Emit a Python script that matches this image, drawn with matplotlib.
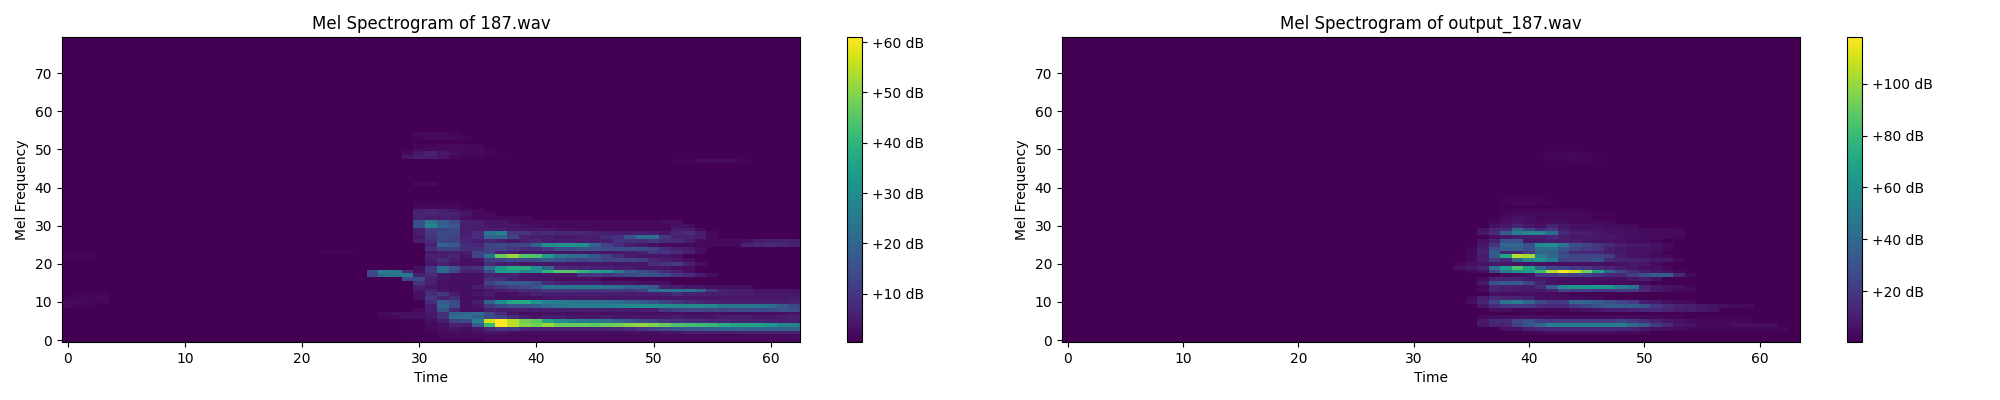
import numpy as np
import matplotlib
matplotlib.use("Agg")
import matplotlib.pyplot as plt

TITLES = ["Mel Spectrogram of 187.wav", "Mel Spectrogram of output_187.wav"]
N_MELS = 80
FRAMES_A = 63
FRAMES_B = 64
VMIN = 0.4
VMAX_A = 61
VMAX_B = 118

# mel bin -> (first frame, dB values per frame)
A_LOW = {
    0: (30, [1, 1, 1, 1, 1, 1, 2, 2, 2, 2, 2, 2, 2, 2, 2, 2, 2, 2, 2, 2, 2, 2, 2, 2, 2, 2, 2, 2, 2, 2, 2, 2, 2]),
    1: (30, [1, 1, 2, 2, 2, 2, 2, 2, 2, 2, 2, 2, 2, 2, 2, 2, 2, 2, 2, 2, 2, 2, 2, 2, 2, 2, 2, 2, 2, 2, 2, 2, 3]),
    2: (29, [1, 1, 1, 2, 3, 2, 3, 4, 4, 3, 3, 3, 3, 3, 3, 3, 3, 3, 3, 3, 3, 3, 4, 4, 5, 5, 5, 5, 5, 6, 6, 6, 6, 6]),
    3: (29, [1, 1, 2, 3, 4, 3, 4, 7, 10, 10, 7, 6, 6, 6, 6, 6, 6, 7, 7, 8, 10, 12, 14, 16, 17, 17, 18, 20, 20, 20, 20, 20, 20, 20]),
    4: (29, [1, 1, 2, 3, 6, 5, 18, 42, 61, 55, 50, 48, 52, 47, 47, 47, 46, 47, 48, 50, 51, 49, 47, 44, 43, 42, 41, 38, 36, 36, 35, 32, 28, 27]),
    5: (29, [1, 1, 3, 5, 12, 14, 27, 57, 61, 55, 48, 46, 36, 30, 27, 25, 25, 22, 20, 17, 14, 12, 10, 9, 8, 8, 7, 7, 6, 6, 6, 6, 5, 5]),
    6: (27, [2, 2, 3, 3, 4, 9, 22, 22, 20, 14, 12, 8, 5, 4, 5, 5, 4, 4, 4, 5, 4, 4, 4, 4, 4, 5, 4, 4, 4, 5, 5, 5, 4, 4, 5, 6]),
    7: (27, [2, 3, 3, 3, 4, 8, 20, 21, 22, 14, 8, 4, 3, 3, 3, 3, 3, 3, 3, 3, 3, 3, 3, 3, 3, 3, 3, 3, 3, 3, 3, 3, 3, 3, 3, 4]),
    8: (30, [2, 5, 16, 7, 3, 3, 5, 5, 5, 5, 5, 5, 5, 5, 5, 5, 5, 5, 5, 5, 5, 10, 12, 13, 13, 13, 13, 14, 14, 14, 14, 16, 15]),
    9: (31, [5, 20, 14, 3, 4, 10, 14, 16, 16, 18, 22, 24, 26, 26, 27, 27, 28, 29, 30, 30, 30, 29, 29, 29, 28, 24, 24, 24, 24, 22, 18, 14]),
    10: (31, [8, 18, 14, 3, 5, 20, 30, 37, 38, 32, 27, 26, 25, 24, 23, 23, 22, 20, 18, 16, 12, 10, 8, 7, 6, 5, 5, 5, 5, 5, 5, 6]),
    11: (30, [3, 10, 6, 8, 3, 3, 4, 3, 3, 3, 3, 4, 4, 4, 4, 4, 4, 4, 4, 4, 4, 4, 4, 4, 4, 4, 4, 4, 4, 4, 4, 4, 5]),
    12: (30, [3, 8, 10, 5, 3, 4, 5, 3, 3, 4, 6, 5, 5, 5, 5, 5, 5, 5, 5, 5, 5, 6, 8, 6, 6, 5, 5, 5, 5, 4, 4, 4, 4]),
    13: (30, [4, 7, 4, 3, 3, 3, 4, 5, 6, 8, 8, 10, 10, 10, 10, 10, 10, 10, 10, 12, 22, 24, 24, 24, 20, 10, 6, 5, 5, 4, 4, 4, 4]),
    14: (30, [6, 4, 3, 3, 3, 5, 8, 10, 12, 14, 16, 24, 24, 24, 25, 25, 24, 22, 20, 20, 17, 6, 5, 4, 4, 3, 3, 3, 3]),
    15: (30, [9, 6, 3, 3, 3, 3, 12, 16, 18, 18, 15, 8, 6, 5, 5, 5, 4, 4, 4, 3, 3, 3]),
    16: (29, [14, 14, 6, 4, 3, 3, 3, 8, 8, 5, 4, 4, 4, 3, 3, 3, 3]),
    17: (26, [14, 22, 24, 25, 6, 8, 4, 3, 3, 3, 6, 5, 6, 4, 4, 4, 4, 4, 10, 10, 10, 12, 14, 16, 15, 14, 10, 8, 5, 3]),
    18: (26, [14, 26, 24, 8, 3, 10, 22, 14, 6, 6, 14, 33, 34, 28, 30, 40, 45, 45, 40, 36, 33, 25, 18, 15, 12, 8, 5, 3]),
    19: (30, [3, 10, 22, 16, 8, 9, 22, 33, 38, 38, 30, 20, 8, 7, 7, 6, 6, 5, 5, 4, 4, 4, 3, 3]),
    20: (31, [4, 6, 4, 3, 3, 8, 5, 5, 4, 4, 4, 4, 4, 4, 4, 4, 4, 4, 4, 8, 10, 11, 6, 3]),
    21: (31, [5, 8, 5, 3, 4, 11, 12, 14, 14, 15, 18, 16, 14, 13, 14, 12, 13, 13, 11, 7, 5, 4, 3]),
}
A_HIGH = {
    22: (31, [6, 5, 7, 4, 12, 24, 47, 52, 45, 44, 33, 25, 22, 22, 17, 12, 8, 5, 4, 4, 4, 3]),
    23: (31, [4, 5, 5, 5, 12, 12, 6, 5, 4, 4, 4, 4, 4, 4, 4, 4, 4, 5, 6, 10, 10, 8, 6, 3]),
    24: (31, [8, 12, 12, 8, 8, 12, 12, 10, 8, 8, 10, 15, 15, 16, 16, 15, 15, 15, 15, 13, 8, 6, 5, 3]),
    25: (31, [6, 20, 18, 8, 7, 12, 14, 12, 13, 20, 30, 31, 31, 30, 20, 12, 8, 5, 4, 3, 2, 2, 2, 2, 2, 2, 2, 6, 7, 8, 7, 6]),
    26: (30, [5, 8, 12, 12, 7, 5, 7, 5, 4, 6, 7, 5, 5, 5, 5, 5, 5, 9, 9, 8, 10, 8, 8, 5, 2, 2, 2, 2, 3, 5, 6, 6, 5]),
    27: (30, [4, 10, 14, 12, 6, 8, 20, 20, 12, 6, 5, 5, 4, 4, 5, 5, 8, 9, 16, 22, 22, 10, 6, 6, 5, 2]),
    28: (30, [5, 10, 14, 14, 5, 8, 24, 27, 10, 10, 7, 8, 7, 7, 7, 6, 5, 5, 5, 5, 5, 4, 7, 8, 5, 2]),
    29: (30, [6, 11, 12, 14, 5, 5, 5, 5, 4, 4, 4, 4, 3, 3, 2, 2, 2, 2, 2, 2, 2, 2, 5, 5, 2]),
    30: (30, [15, 28, 20, 16, 5, 5, 4, 4, 4, 3, 3, 2, 2, 2, 2, 2, 2, 2, 2, 2, 2, 2, 3, 3]),
    31: (30, [15, 25, 18, 14, 6, 5, 4, 4, 3, 2, 2, 2, 2, 2, 2, 2, 2, 2, 2, 2, 2, 3, 3]),
    32: (30, [6, 5, 5, 5, 3, 2, 2, 2, 2, 2]),
    33: (30, [6, 7, 6, 6, 4, 2, 2]),
    34: (30, [6, 7, 6, 4, 3, 2]),
    35: (30, [2, 2, 2, 2, 1]),
    36: (30, [1.5, 1.5, 1.5, 1.5]),
    41: (30, [2, 2]),
    47: (52, [1.5, 1.5, 2, 2, 2, 2, 1.5]),
    48: (29, [4, 5, 5, 4, 2, 1.5, 1.5, 1, 1]),
    49: (29, [2, 4, 6, 4, 3, 2, 2, 1.5]),
    50: (30, [2, 2, 2, 2, 2, 2, 1.5]),
    51: (30, [1.5, 1.5, 2, 2, 2, 2]),
    53: (30, [1.5, 2, 2, 2, 1.5]),
    54: (30, [2, 2, 2, 1.5]),
}
A_FAINT = {
    9: (0, [2, 1.5, 1.5]),
    10: (0, [2, 2, 1.5, 1.5]),
    11: (0, [1.5, 1.5, 1.5, 2]),
    12: (1, [1.5, 1.5, 1.5]),
    22: (0, [1.5, 1.5, 1.5]),
    23: (22, [1.5, 1.5, 1.5]),
}

B_LOW = {
    2: (40, [3, 4, 5, 5, 5, 5, 5, 5, 4, 4, 3]),
    3: (38, [6, 6, 10, 14, 14, 14, 14, 14, 14, 14, 14, 12, 8, 6, 5, 4, 3, 3, 3, 3, 3, 3, 3, 3, 3]),
    4: (36, [8, 12, 12, 22, 30, 40, 50, 50, 50, 50, 50, 50, 50, 40, 35, 22, 15, 8, 6, 4, 3, 3, 5, 5, 5, 5]),
    5: (36, [8, 15, 15, 25, 30, 22, 20, 20, 20, 20, 20, 20, 25, 20, 15, 12, 8, 6, 4, 3, 3, 3, 3, 3]),
    6: (36, [3, 4, 5, 5, 5, 5, 5, 4, 4, 4, 4, 4, 4, 4, 3, 3, 2, 2]),
    8: (37, [5, 5, 3, 3, 3, 3, 3, 5, 6, 8, 10, 10, 12, 14, 15, 12, 10, 10, 8, 6]),
    9: (36, [8, 15, 20, 20, 20, 16, 14, 14, 20, 25, 30, 35, 35, 35, 30, 20, 15, 12, 10, 8, 6, 5, 4, 3]),
    10: (35, [5, 12, 25, 45, 50, 40, 25, 20, 20, 40, 40, 35, 30, 25, 20, 10, 8, 5, 4, 3]),
    11: (35, [3, 10, 15, 12, 12, 10, 5, 5, 4, 4, 3, 3]),
    12: (37, [5, 5, 5, 5, 5, 4, 4]),
    13: (36, [4, 12, 10, 10, 8, 8, 12, 25, 22, 22, 20, 18, 22, 22, 15, 8, 6, 4, 3]),
    14: (36, [3, 14, 12, 10, 10, 15, 35, 55, 62, 62, 62, 62, 50, 45, 12, 8, 6, 5, 3]),
    15: (36, [8, 30, 35, 35, 25, 12, 6, 5, 5, 5, 4, 4, 4, 3, 3]),
    16: (36, [4, 12, 12, 12, 8, 8, 6, 5, 5, 5, 5, 5, 5, 8, 10, 6]),
    17: (38, [4, 4, 6, 20, 20, 25, 22, 22, 18, 15, 15, 22, 30, 35, 35, 15, 4]),
    18: (35, [3, 5, 25, 50, 60, 65, 80, 105, 118, 110, 92, 68, 40, 25, 15, 10, 8, 5, 3]),
    19: (34, [6, 8, 12, 45, 65, 85, 68, 40, 25, 25, 20, 18, 15, 12, 10, 8, 5, 5, 3]),
    20: (34, [3, 5, 6, 8, 8, 6, 5, 5, 5, 5, 5, 5, 5, 5, 6, 8, 8, 4]),
    21: (35, [3, 10, 20, 15, 40, 55, 60, 50, 25, 25, 25, 30, 15, 12, 12, 10, 8, 8, 4]),
}
B_HIGH = {
    22: (35, [3, 10, 35, 70, 105, 102, 50, 40, 30, 25, 25, 25, 22, 10, 6, 5, 4, 3]),
    23: (35, [3, 12, 35, 12, 12, 20, 38, 38, 25, 15, 14, 12, 10, 8, 6, 5, 4]),
    24: (35, [3, 10, 28, 35, 35, 28, 42, 42, 32, 25, 20, 18, 10, 8, 6, 6, 5, 3]),
    25: (36, [8, 18, 40, 40, 30, 58, 58, 45, 30, 25, 18, 15, 10, 8, 8, 6, 4]),
    26: (36, [6, 12, 30, 30, 8, 8, 10, 10, 10, 8, 6, 6, 6, 4, 4, 3]),
    27: (37, [5, 8, 10, 10, 10, 14, 10, 8, 8, 8, 8, 6, 5, 4, 4, 4, 3]),
    28: (36, [8, 15, 35, 50, 55, 55, 42, 15, 10, 10, 8, 6, 5, 5, 4, 4, 4, 4]),
    29: (36, [6, 12, 15, 40, 25, 15, 20, 10, 6, 6, 6, 5, 5, 5, 4, 4, 4, 3]),
    30: (37, [6, 8, 12, 8, 5, 12, 8, 5, 5, 5, 4, 4, 3]),
    31: (37, [3, 5, 8, 5, 4, 5, 5, 3, 3, 3, 3]),
    32: (38, [4, 6, 5, 3, 3, 3, 3, 3]),
    33: (38, [3, 4, 4, 4, 4, 4, 4, 3, 2, 2]),
    34: (38, [2, 2, 2, 2, 2, 2, 2, 2]),
    36: (38, [2, 3, 3, 2, 2]),
    37: (38, [2, 2, 2, 2]),
    47: (42, [1.5, 1.5, 2, 2, 1.5]),
    48: (41, [1.5, 2, 3, 3, 2, 1.5]),
    49: (41, [1.5, 2, 2, 2, 1.5]),
}


def fill(n_frames, *tables):
    grid = np.full((N_MELS, n_frames), VMIN)
    for table in tables:
        for mel, (start, values) in table.items():
            stop = min(start + len(values), n_frames)
            grid[mel, start:stop] = values[:stop - start]
    return grid


spec_a = fill(FRAMES_A, A_FAINT, A_LOW, A_HIGH)
spec_b = fill(FRAMES_B, B_LOW, B_HIGH)

fig = plt.figure(figsize=(20, 4))
BOTTOM, HEIGHT = 0.145, 0.7625
panels = (
    (0.031, 0.369, 0.4235, spec_a, TITLES[0], VMAX_A),
    (0.531, 0.369, 0.9235, spec_b, TITLES[1], VMAX_B),
)
for left, width, cax_left, spec, title, vmax in panels:
    ax = fig.add_axes([left, BOTTOM, width, HEIGHT])
    cax = fig.add_axes([cax_left, BOTTOM, 0.0075, HEIGHT])
    im = ax.imshow(spec, aspect="auto", origin="lower", interpolation="nearest",
                   cmap="viridis", vmin=VMIN, vmax=vmax)
    ax.set_title(title)
    ax.set_xlabel("Time")
    ax.set_ylabel("Mel Frequency")
    fig.colorbar(im, cax=cax, format="%+2.0f dB")
fig.savefig("out.png", dpi=100)
